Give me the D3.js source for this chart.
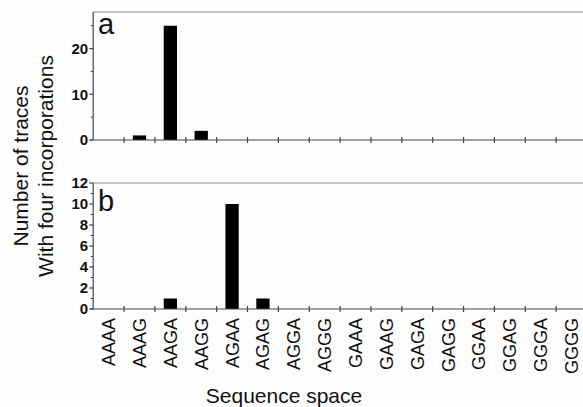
<!DOCTYPE html>
<html>
<head>
<meta charset="utf-8">
<script src="https://cdn.jsdelivr.net/npm/d3@7"></script>
<style>
  html, body { margin: 0; padding: 0; background: #fdfdfd; }
  svg { display: block; }
  text { font-family: "Liberation Sans", Arial, sans-serif; fill: #111; }
</style>
</head>
<body>
<script>
const categories = ["AAAA","AAAG","AAGA","AAGG","AGAA","AGAG","AGGA","AGGG",
                    "GAAA","GAAG","GAGA","GAGG","GGAA","GGAG","GGGA","GGGG"];
const valuesA = [0, 1, 25, 2, 0, 0, 0, 0, 0, 0, 0, 0, 0, 0, 0, 0];
const valuesB = [0, 0, 1, 0, 10, 1, 0, 0, 0, 0, 0, 0, 0, 0, 0, 0];
const majorTicksA = [0, 10, 20];
const minorTicksA = [5, 15, 25];
const majorTicksB = [0, 2, 4, 6, 8, 10, 12];
const minorTicksB = [1, 3, 5, 7, 9, 11];
const panelLabels = ["a", "b"];
const yTitleLines = ["Number of traces", "With four incorporations"];
const xTitle = "Sequence space";

const W = 583, H = 407;
const svg = d3.select("body").append("svg").attr("width", W).attr("height", H);
svg.append("rect").attr("width", W).attr("height", H).attr("fill", "#fdfdfd");

const x = d3.scaleBand().domain(categories).range([93.2, 587]).paddingInner(0.57).paddingOuter(0.285);
const xLeft = 93.2, xRight = 587;

const panels = [
  { values: valuesA, y: d3.scaleLinear().domain([0, 28]).range([140, 12]), major: majorTicksA, minor: minorTicksA, label: panelLabels[0], labelY: 34, top: 28 },
  { values: valuesB, y: d3.scaleLinear().domain([0, 12]).range([309, 183]), major: majorTicksB, minor: minorTicksB, label: panelLabels[1], labelY: 211, top: 12 }
];

const axisColor = "#444";
const boundaries = d3.range(1, categories.length).map(i => x(categories[i]) - x.step() * x.paddingInner() / 2);

panels.forEach(p => {
  const g = svg.append("g");
  const y0 = p.y(0), yTop = p.y(p.top);
  // top border
  g.append("line").attr("x1", xLeft).attr("x2", W).attr("y1", yTop).attr("y2", yTop)
    .attr("stroke", "#888").attr("stroke-width", 1.2);
  // bars
  g.selectAll("rect.bar").data(categories.map((c, i) => ({c, v: p.values[i]})).filter(d => d.v > 0))
    .enter().append("rect")
    .attr("x", d => x(d.c)).attr("width", x.bandwidth())
    .attr("y", d => p.y(d.v)).attr("height", d => y0 - p.y(d.v))
    .attr("fill", "#000");
  // x axis line
  g.append("line").attr("x1", xLeft - 3).attr("x2", W).attr("y1", y0).attr("y2", y0)
    .attr("stroke", axisColor).attr("stroke-width", 1.2);
  // x ticks (crossing)
  g.selectAll("line.xt").data(boundaries).enter().append("line")
    .attr("x1", d => d).attr("x2", d => d).attr("y1", y0 - 3).attr("y2", y0 + 3)
    .attr("stroke", axisColor).attr("stroke-width", 1.2);
  // y axis line
  g.append("line").attr("x1", xLeft).attr("x2", xLeft).attr("y1", yTop).attr("y2", y0)
    .attr("stroke", axisColor).attr("stroke-width", 1.2);
  // major ticks
  g.selectAll("line.ymaj").data(p.major).enter().append("line")
    .attr("x1", xLeft - 4).attr("x2", xLeft).attr("y1", d => p.y(d)).attr("y2", d => p.y(d))
    .attr("stroke", axisColor).attr("stroke-width", 1.2);
  g.selectAll("line.ymin").data(p.minor).enter().append("line")
    .attr("x1", xLeft - 2.5).attr("x2", xLeft).attr("y1", d => p.y(d)).attr("y2", d => p.y(d))
    .attr("stroke", axisColor).attr("stroke-width", 1);
  g.selectAll("text.yl").data(p.major).enter().append("text")
    .attr("x", xLeft - 5).attr("y", d => p.y(d)).attr("dy", "0.36em")
    .attr("text-anchor", "end").attr("font-size", 15).attr("font-weight", "bold")
    .text(d => d);
  // panel label
  g.append("text").attr("x", 98).attr("y", p.labelY).attr("font-size", 29).text(p.label);
});

// x tick labels (rotated)
svg.selectAll("text.xl").data(categories).enter().append("text")
  .attr("transform", d => `translate(${x(d) + x.bandwidth() / 2},318) rotate(-90)`)
  .attr("text-anchor", "end").attr("dy", "0.36em").attr("font-size", 18)
  .text(d => d);

// y title
svg.selectAll("text.yt").data(yTitleLines).enter().append("text")
  .attr("transform", (d, i) => `translate(${[28, 53][i]},166) rotate(-90)`)
  .attr("text-anchor", "middle").attr("font-size", 21)
  .text(d => d);

// x title
svg.append("text").attr("x", 284).attr("y", 403).attr("text-anchor", "middle")
  .attr("font-size", 21).text(xTitle);
</script>
</body>
</html>
